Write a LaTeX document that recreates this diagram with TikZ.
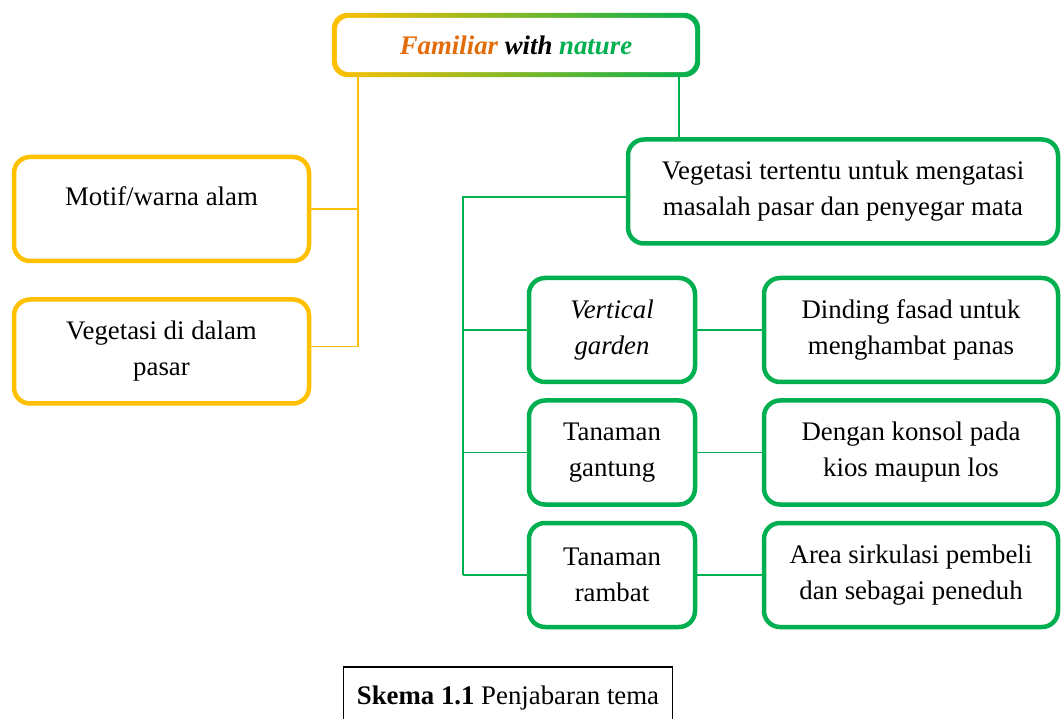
\documentclass[tikz,border=0pt]{standalone}
\usepackage{fontspec}
\setmainfont{Liberation Serif}
\usetikzlibrary{backgrounds}

\begin{document}
\begin{tikzpicture}[x=1pt,y=-1pt,
  ybox/.style={draw=myyellow,line width=4.5pt,rounded corners=16pt,align=center,
    minimum width=295pt,minimum height=104pt},
  gbox/.style={draw=mygreen,line width=4.5pt,rounded corners=16pt,align=center,
    minimum height=104pt},
  yline/.style={draw=myyellow,line width=1.8pt},
  gline/.style={draw=mygreen,line width=1.8pt},
  every node/.style={font=\fontsize{26.8}{36}\selectfont}]
\definecolor{myyellow}{HTML}{FFC000}
\definecolor{mygreen}{HTML}{00B050}
\definecolor{myorange}{HTML}{E36C0A}
\clip (0,0) rectangle (1061,719);

% tema utama
\node (theme) [minimum width=368pt,minimum height=64pt] at (516,45)
  {\textbf{\textit{\textcolor{myorange}{Familiar} with \textcolor{mygreen}{nature}}}};
\begin{scope}[on background layer]
  \fill[white] (0,0) rectangle (1061,719);
  \shade[left color=myyellow,right color=mygreen,rounded corners=16pt]
    (theme.south west) rectangle (theme.north east);
  \fill[white,rounded corners=12pt]
    ([shift={(5,-5)}]theme.south west) rectangle ([shift={(-5,5)}]theme.north east);
\end{scope}

% cabang kuning
\node [ybox] (motif) at (161.5,209) {Motif/warna alam\\[-10pt]\mbox{}};
\node [ybox] (vegpasar) at (161.5,351.5) {Vegetasi di dalam\\pasar};
\coordinate (ytrunk) at (358,0);
\draw[yline] (theme.south -| ytrunk) |- ([yshift=5]vegpasar.east);
\draw[yline] (motif.east) -- (motif.east -| ytrunk);

% cabang hijau
\node [gbox,minimum width=430pt] (vegtertentu) at (843,191.5)
  {Vegetasi tertentu untuk mengatasi\\masalah pasar dan penyegar mata};
\coordinate (gdrop) at (679,0);
\coordinate (gtrunk) at (463,0);
\draw[gline] (theme.south -| gdrop) -- (vegtertentu.north -| gdrop);

\foreach \i/\y/\plant/\use in {
  1/330/{\textit{Vertical}\\\textit{garden}}/{Dinding fasad untuk\\menghambat panas},
  2/452.5/{Tanaman\\gantung}/{Dengan konsol pada\\kios maupun los},
  3/575/{Tanaman\\rambat}/{Area sirkulasi pembeli\\dan sebagai peneduh}}
{ \node [gbox,minimum width=166pt] (plant\i) at (612,\y) {\plant};
  \node [gbox,minimum width=294pt] (use\i) at (911,\y) {\use};
  \draw[gline] (plant\i.east) -- (use\i.west);
  \draw[gline] (plant\i.west) -- (plant\i.west -| gtrunk);}
\draw[gline] ([yshift=-5.5]vegtertentu.west) -| (gtrunk |- plant3.west);

% keterangan
\node (caption) [draw,line width=1.5pt,minimum width=329pt,minimum height=62pt,
  anchor=north] at (508,666) {\textbf{Skema 1.1} Penjabaran tema};
\end{tikzpicture}
\end{document}
